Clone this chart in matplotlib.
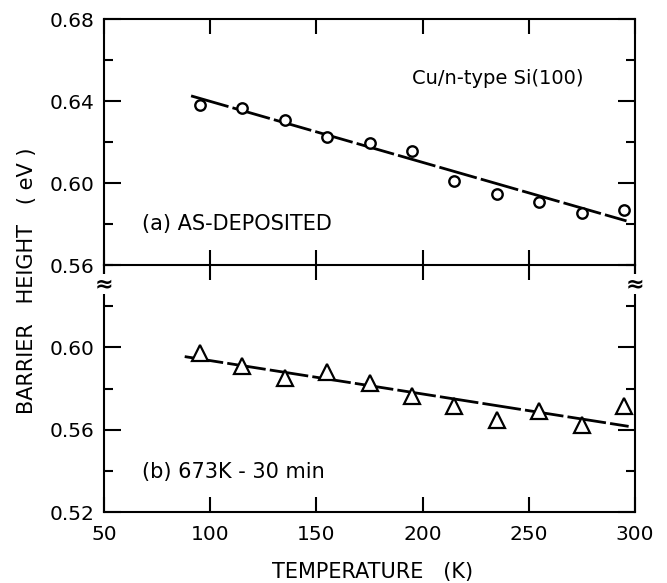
#!/usr/bin/env python3
# barrier height vs temperature, two stacked panels with a broken y axis
import matplotlib
matplotlib.use("Agg")
import matplotlib.pyplot as plt
from matplotlib.ticker import MultipleLocator

# ---- data ----
temp = [95, 115, 135, 155, 175, 195, 215, 235, 255, 275, 295]
bh_asdep = [0.638, 0.6364, 0.6307, 0.6223, 0.6197, 0.6156,
            0.6011, 0.5946, 0.5907, 0.5852, 0.5870]
bh_anneal = [0.5974, 0.5909, 0.5852, 0.5880, 0.5828, 0.5762,
             0.5714, 0.5649, 0.5693, 0.5621, 0.5714]

fit_a_x = [91, 296]
fit_a_y = [0.6425, 0.5815]
fit_b_x = [88, 297]
fit_b_y = [0.5955, 0.5616]

xticks = [50, 100, 150, 200, 250, 300]

plt.rcParams['font.family'] = ['DejaVu Sans']

fig = plt.figure(figsize=(6.67, 5.83), dpi=100)
L, R = 104 / 667, 635 / 667
top, mid, bot = 1 - 19 / 583, 1 - 265 / 583, 1 - 512 / 583
ax_a = fig.add_axes([L, mid, R - L, top - mid])
ax_b = fig.add_axes([L, bot, R - L, mid - bot], sharex=ax_a)

lw_sp = 1.5
for ax, lo in ((ax_a, 0.56), (ax_b, 0.52)):
    ax.patch.set_visible(False)
    ax.set_xlim(50, 300)
    ax.set_ylim(lo, lo + 0.12)
    ax.set_xticks(xticks)
    ax.yaxis.set_major_locator(MultipleLocator(0.04))
    ax.yaxis.set_minor_locator(MultipleLocator(0.02))
    for s in ax.spines.values():
        s.set_linewidth(lw_sp)
    ax.tick_params(axis='both', which='major', direction='in', width=lw_sp,
                   labelsize=14.5, colors='black')
    ax.tick_params(axis='y', which='major', length=12, left=True, right=True, pad=7)
    ax.tick_params(axis='y', which='minor', direction='in', length=6.5,
                   width=lw_sp, left=True, right=True)
    ax.tick_params(axis='x', which='major', length=11, top=True, bottom=True)
    ax.yaxis.set_major_formatter(plt.FuncFormatter(lambda v, p: f"{v:.2f}"))

ax_a.tick_params(axis='x', labelbottom=False)
ax_b.tick_params(axis='x', pad=9)
ax_b.spines['top'].set_visible(False)
# lower panel: no label at its top (0.64)
ax_b.set_yticks([0.52, 0.56, 0.60])
ax_b.yaxis.set_minor_locator(MultipleLocator(0.02))

# ---- panel (a) ----
ax_a.plot(fit_a_x, fit_a_y, color='black', lw=2.0, dashes=(14, 1.5), zorder=2)
ax_a.plot(temp, bh_asdep, 'o', ms=7.5, mfc='white', mec='black', mew=1.7, zorder=3)
ax_a.text(195, 0.6512, "Cu/n-type Si(100)", fontsize=14, va='center')
ax_a.text(68, 0.58, "(a) AS-DEPOSITED", fontsize=15, va='center')

# ---- panel (b) ----
ax_b.plot(fit_b_x, fit_b_y, color='black', lw=2.0, dashes=(14, 1.5), zorder=2)
ax_b.plot(temp, bh_anneal, '^', ms=11, mfc='white', mec='black', mew=1.6, zorder=3)
ax_b.text(68, 0.5395, "(b) 673K - 30 min", fontsize=15, va='center')

# break marks
for xf in (L, R):
    fig.text(xf, 1 - 284 / 583, "≈", fontsize=16, fontweight='bold',
             ha='center', va='center',
             bbox=dict(boxstyle='square,pad=0.0', fc='white', ec='none'))

fig.text(27 / 667, 1 - 281 / 583, "BARRIER   HEIGHT   ( eV )", rotation=90,
         fontsize=15, ha='center', va='center')
fig.text(373 / 667, 1 - 572 / 583, "TEMPERATURE   (K)", fontsize=15,
         ha='center', va='center')

fig.savefig("out.png", dpi=100)
